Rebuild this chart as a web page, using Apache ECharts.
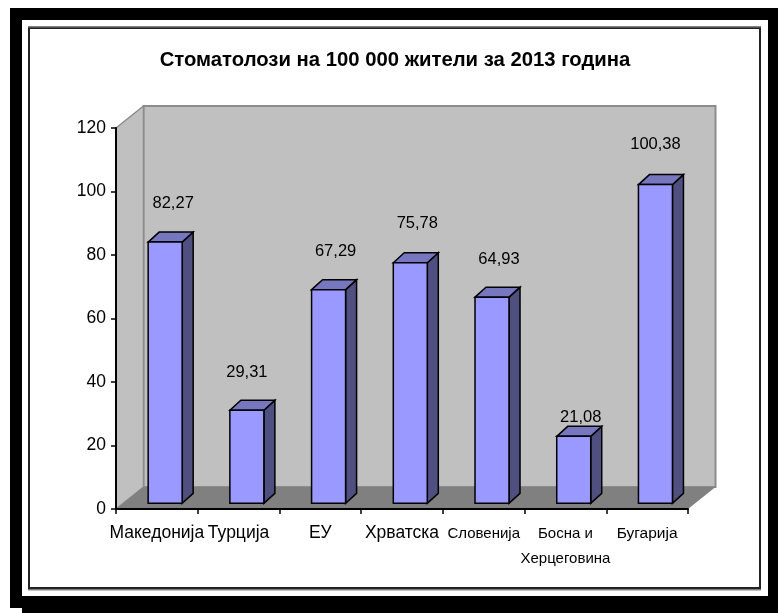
<!DOCTYPE html>
<html>
<head>
<meta charset="utf-8">
<title>Стоматолози</title>
<script src="https://cdn.jsdelivr.net/npm/echarts@6/dist/echarts.min.js"></script>
<style>
html, body { margin: 0; padding: 0; background: #fff; }
#chart { width: 778px; height: 613px; }
</style>
</head>
<body>
<div id="chart"></div>
<script>
var chartTitle = 'Стоматолози на 100 000 жители за 2013 година';
var categories = ['Македонија', 'Турција', 'ЕУ', 'Хрватска', 'Словенија', 'Босна и\nХерцеговина', 'Бугарија'];
var dentists = [82.27, 29.31, 67.29, 75.78, 64.93, 21.08, 100.38];
var yTicks = { min: 0, max: 120, interval: 20 };

var FONT = '"Liberation Sans", Arial, sans-serif';

// fake 3d: how far the walls and the bars go back
var WALL_DX = 27.5, WALL_DY = 22;
var BAR_DX = 11, BAR_DY = 10;
var BAR_W = 34, BAR_SHIFT_X = 8.3, BAR_SHIFT_Y = 5.7;

// value labels were placed by hand in the original, so they are not all the same distance from the bar
var labelNudgeX = [8, 0, 7, 7, 7, 7, 0];
var labelNudgeY = [0, 1, 1, 0, 1, 20, -1];

function renderWalls(params, api) {
    var c = params.coordSys;
    var l = c.x, r = c.x + c.width, t = c.y, b = c.y + c.height;
    var dx = WALL_DX, dy = WALL_DY;
    return {
        type: 'group',
        children: [
            { type: 'polygon', shape: { points: [[l + dx, t - dy], [r + dx, t - dy], [r + dx, b - dy], [l + dx, b - dy]] },
                style: { fill: '#c0c0c0', stroke: '#8c8c8c', lineWidth: 2 } },
            { type: 'polygon', shape: { points: [[l, t], [l + dx, t - dy], [l + dx, b - dy], [l, b]] },
                style: { fill: '#c0c0c0', stroke: '#8c8c8c', lineWidth: 1.5 } },
            { type: 'polygon', shape: { points: [[l, b], [l + dx, b - dy], [r + dx, b - dy], [r, b]] },
                style: { fill: '#808080' } }
        ]
    };
}

function renderBar(params, api) {
    var i = api.value(0);
    var v = api.value(1);
    var top = api.coord([i, v]);
    var base = api.coord([i, 0]);
    var x = top[0] - BAR_W / 2 + BAR_SHIFT_X;
    var y = top[1] - BAR_SHIFT_Y;
    var y0 = base[1] - BAR_SHIFT_Y;
    var w = BAR_W;
    var edge = { stroke: '#000', lineWidth: 1.5, lineJoin: 'miter' };
    return {
        type: 'group',
        children: [
            { type: 'polygon', shape: { points: [[x + w, y], [x + w + BAR_DX, y - BAR_DY], [x + w + BAR_DX, y0 - BAR_DY], [x + w, y0]] },
                style: Object.assign({ fill: '#4f4f80' }, edge) },
            { type: 'polygon', shape: { points: [[x, y], [x + BAR_DX, y - BAR_DY], [x + w + BAR_DX, y - BAR_DY], [x + w, y]] },
                style: Object.assign({ fill: '#7777bf' }, edge) },
            { type: 'rect', shape: { x: x, y: y, width: w, height: y0 - y },
                style: Object.assign({ fill: '#9999ff' }, edge) },
            { type: 'text', style: {
                x: x + w / 2 + labelNudgeX[i],
                y: y - 39 + labelNudgeY[i],
                text: v.toFixed(2).replace('.', ','),
                fill: '#000',
                font: '16.5px ' + FONT,
                textAlign: 'center',
                textVerticalAlign: 'middle'
            } }
        ]
    };
}

function categoryLabel(name) {
    // the long names are set smaller in the original
    if (name === 'Словенија' || name.indexOf('Босна') === 0) {
        return name.split('\n').map(function (s) { return '{small|' + s + '}'; }).join('\n');
    }
    if (name === 'Бугарија') {
        return '{mid|' + name + '}';
    }
    return name;
}

var chart = echarts.init(document.getElementById('chart'), null, { renderer: 'canvas' });

chart.setOption({
    animation: false,
    backgroundColor: '#fff',
    title: {
        text: chartTitle,
        left: 390,
        top: 45,
        textAlign: 'center',
        textStyle: { fontFamily: FONT, fontSize: 20.3, fontWeight: 'bold', color: '#000' }
    },
    grid: { left: 116, right: 90, top: 128, bottom: 104, containLabel: false },
    xAxis: {
        type: 'category',
        data: categories,
        z: 5,
        axisLine: { show: true, lineStyle: { color: '#000', width: 2 } },
        axisTick: { show: true, length: 5, lineStyle: { color: '#000', width: 1.5 } },
        axisLabel: {
            interval: 0,
            margin: 12,
            hideOverlap: false,
            color: '#000',
            fontFamily: FONT,
            fontSize: 17.5,
            lineHeight: 25,
            formatter: categoryLabel,
            rich: {
                small: { fontFamily: FONT, fontSize: 15, lineHeight: 25, color: '#000' },
                mid: { fontFamily: FONT, fontSize: 15.5, lineHeight: 25, color: '#000' }
            }
        }
    },
    yAxis: {
        type: 'value',
        min: yTicks.min,
        max: yTicks.max,
        interval: yTicks.interval,
        z: 5,
        splitLine: { show: false },
        axisLine: { show: true, lineStyle: { color: '#000', width: 2 } },
        axisTick: { show: true, length: 5, lineStyle: { color: '#000', width: 1.5 } },
        axisLabel: { margin: 10, color: '#000', fontFamily: FONT, fontSize: 17.5 }
    },
    series: [
        {
            type: 'custom',
            silent: true,
            clip: false,
            z: 1,
            renderItem: renderWalls,
            data: [[0, 0]]
        },
        {
            type: 'custom',
            silent: true,
            clip: false,
            z: 3,
            renderItem: renderBar,
            encode: { x: 0, y: 1 },
            data: dentists.map(function (v, i) { return [i, v]; })
        }
    ],
    graphic: [
        { type: 'rect', silent: true, z: -10, shape: { x: 10, y: 8, width: 768, height: 600 }, style: { fill: '#000' } },
        { type: 'rect', silent: true, z: -10, shape: { x: 22, y: 596, width: 756, height: 17 }, style: { fill: '#000' } },
        { type: 'rect', silent: true, z: -9, shape: { x: 22, y: 20, width: 746, height: 576 }, style: { fill: '#fff' } },
        { type: 'rect', silent: true, z: -8, shape: { x: 29, y: 28, width: 731, height: 560 }, style: { fill: '#fff', stroke: '#222', lineWidth: 2 } },
        // grey shadow along the top and bottom of the inner border
        { type: 'rect', silent: true, z: -7, shape: { x: 28, y: 26, width: 733, height: 1.5 }, style: { fill: '#808080' } },
        { type: 'rect', silent: true, z: -7, shape: { x: 28, y: 589, width: 733, height: 1.5 }, style: { fill: '#808080' } }
    ]
});
</script>
</body>
</html>
